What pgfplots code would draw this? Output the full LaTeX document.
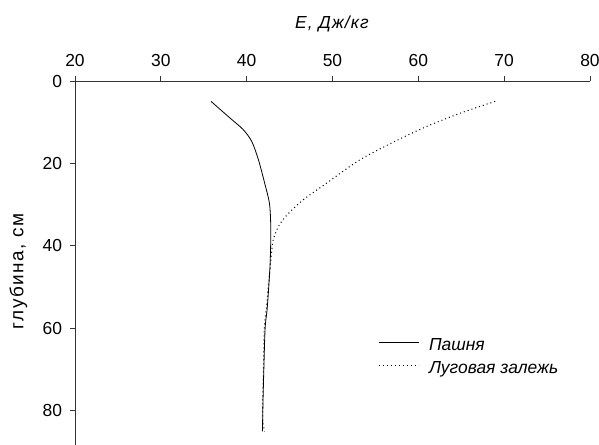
\documentclass[border=0pt]{standalone}
\usepackage{fontspec}
\setmainfont{Liberation Sans}
\usepackage{pgfplots}
\pgfplotsset{compat=1.18}
\begin{document}
\fontsize{17.5}{21}\selectfont
\begin{tikzpicture}
\useasboundingbox (-75bp,81bp) rectangle (524bp,-364bp);
\begin{axis}[
  at={(0,0)}, anchor=north west,
  scale only axis, width=515bp, height=364bp,
  xmin=20, xmax=80, ymin=0, ymax=88.3, y dir=reverse,
  axis x line=top, axis y line=left,
  axis line style={-, line width=0.8bp, black!80},
  xtick={20,30,...,80}, ytick={0,20,...,80},
  tick align=outside, major tick length=5bp,
  tick style={black!80, line width=0.8bp},
  /pgf/number format/assume math mode=true,
  tick label style={font=\fontsize{17.5}{21}\selectfont},
  xticklabel style={yshift=3bp},
  yticklabel style={xshift=-2bp},
  xlabel={\textit{E, Дж/кг}},
  ylabel={глубина, см},
  xlabel style={at={(axis description cs:0.5,1.1456)}, anchor=base,
    font=\fontsize{17.5}{21}\selectfont\addfontfeature{LetterSpace=6}},
  ylabel style={at={(axis description cs:-0.1,0.477)}, anchor=base,
    font=\fontsize{19}{22}\selectfont\addfontfeature{LetterSpace=8}},
  legend style={draw=none, fill=none, at={(axis description cs:0.588,0.294)}, anchor=north west,
    inner sep=0pt, nodes={inner sep=0pt, text height=12bp, text depth=4bp, anchor=west},
    row sep=7bp, column sep=10bp, font=\fontsize{17.5}{21}\selectfont},
  legend cell align=left,
  legend image code/.code={\draw[#1] (0bp,4bp) -- (40bp,4bp);},
]
\addplot[black, line width=0.8bp, smooth, tension=0.5] coordinates {
(35.85,4.95) (38.07,9.0) (39.6,11.8) (40.6,14.7) (41.37,19.1) (42.1,24.8) (42.65,29.6) (42.8,34.5) (42.8,39.3) (42.7,45.8) (42.4,55) (42.15,60) (42.0,70) (41.9,78) (41.84,85)
};
\addlegendentry{\textit{Пашня}}
\addplot[black, line width=1bp, dash pattern=on 1bp off 3bp, smooth, tension=0.5] coordinates {
(68.95,4.95) (64.9,7.8) (61.0,11.0) (57.6,14.3) (53.2,19.1) (49.3,24.8) (46.6,28.8) (44.7,32.5) (43.7,35.3) (43.1,38.5) (42.9,41.7) (42.75,45) (42.5,50) (42.3,55) (42.05,60) (41.95,70) (41.85,80) (41.9,83) (42.1,85)
};
\addlegendentry{\textit{Луговая залежь}}
\end{axis}
\end{tikzpicture}
\end{document}
